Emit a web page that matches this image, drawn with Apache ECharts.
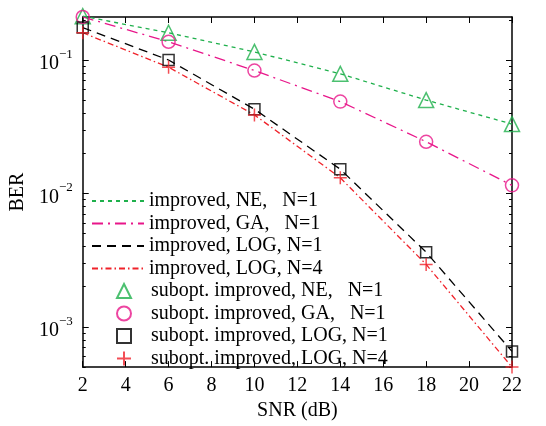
<!DOCTYPE html>
<html>
<head>
<meta charset="utf-8">
<script src="https://cdn.jsdelivr.net/npm/echarts@6/dist/echarts.min.js"></script>
<style>html,body{margin:0;padding:0;background:#fff}#c{width:546px;height:426px}</style>
</head>
<body>
<div id="c"></div>
<script>
// ---- data ----
const snr = [2, 6, 10, 14, 18, 22];
const berNE  = [0.213, 0.160, 0.115, 0.0788, 0.0501, 0.0331];
const berGA  = [0.210, 0.137, 0.0834, 0.0488, 0.0244, 0.0115];
const berLOG1 = [0.175, 0.100, 0.0428, 0.0152, 0.00363, 0.000655];
const berLOG4 = [0.160, 0.0883, 0.0388, 0.0131, 0.00294, 0.000500];
const xTicks = [2, 4, 6, 8, 10, 12, 14, 16, 18, 20, 22];
const yMajor = [0.001, 0.01, 0.1];
const lineNames = ['improved, NE,   N=1', 'improved, GA,   N=1', 'improved, LOG, N=1', 'improved, LOG, N=4'];
const markNames = ['subopt. improved, NE,   N=1', 'subopt. improved, GA,   N=1', 'subopt. improved, LOG, N=1', 'subopt. improved, LOG, N=4'];

// ---- styling ----
const GREEN = '#1fb04c', MAG = '#e8168a', BLACK = '#000000', RED = '#f0222a';
const FONT = "'Liberation Serif', 'Times New Roman', serif";
const yMin = 0.0005, yMax = 0.21;

const yMinor = [];
for (let k = -4; k <= -1; k++) {
  for (let m = 2; m <= 9; m++) {
    const v = +(m * Math.pow(10, k)).toPrecision(3);
    if (v >= yMin && v <= yMax) yMinor.push(v);
  }
}
const pairs = arr => snr.map((x, i) => [x, arr[i]]);
const sup = v => {
  const e = Math.round(Math.log10(v));
  return '{b|10}{s|\u2212' + (-e) + '}';
};

const lineSeries = [
  { name: lineNames[0], data: pairs(berNE), color: GREEN, type: [4, 4] },
  { name: lineNames[1], data: pairs(berGA), color: MAG, type: [11, 5, 2, 5] },
  { name: lineNames[2], data: pairs(berLOG1), color: BLACK, type: [9, 6] },
  { name: lineNames[3], data: pairs(berLOG4), color: RED, type: [6, 3, 1.5, 3] }
].map(s => ({
  type: 'line', name: s.name, data: s.data, xAxisIndex: 0, yAxisIndex: 0,
  symbol: 'none', clip: false, z: 3,
  lineStyle: { color: s.color, width: 1.3, type: s.type },
  itemStyle: { color: s.color }
}));

const markSeries = [
  { name: markNames[0], data: pairs(berNE), color: GREEN, symbol: 'triangle', size: 15 },
  { name: markNames[1], data: pairs(berGA), color: MAG, symbol: 'circle', size: 13 },
  { name: markNames[2], data: pairs(berLOG1), color: BLACK, symbol: 'rect', size: 11 },
  { name: markNames[3], data: pairs(berLOG4), color: RED, symbol: 'path://M0,5L10,5M5,0L5,10', size: 13 }
].map(s => ({
  type: 'scatter', name: s.name, data: s.data, xAxisIndex: 0, yAxisIndex: 0,
  symbol: s.symbol, symbolSize: s.size, clip: false, z: 4,
  itemStyle: { color: 'transparent', borderColor: s.color, borderWidth: 1.5 }
}));

const axisLineStyle = { color: '#000', width: 1.5 };
const baseY = (pos, ticks, len, showLine, showLabel) => ({
  type: 'log', logBase: 10, min: yMin, max: yMax, position: pos,
  axisLine: { show: showLine, onZero: false, lineStyle: axisLineStyle },
  axisTick: { show: true, inside: true, length: len, customValues: ticks, lineStyle: { color: '#000', width: 1 } },
  axisLabel: showLabel ? {
    show: true, customValues: yMajor, margin: 10, formatter: sup,
    rich: {
      b: { fontFamily: FONT, fontSize: 20, color: '#000', lineHeight: 24, padding: [8, 0, 0, 0] },
      s: { fontFamily: FONT, fontSize: 13, color: '#000', lineHeight: 14, verticalAlign: 'top' }
    }
  } : { show: false },
  splitLine: { show: false }, minorTick: { show: false }
});

const yAxes = [
  Object.assign(baseY('left', yMajor, 6, true, true), {
    name: 'BER', nameLocation: 'middle', nameGap: 39,
    nameTextStyle: { fontFamily: FONT, fontSize: 20, color: '#000' }
  }),
  baseY('left', yMinor, 3, false, false),
  baseY('right', yMajor, 6, true, false),
  baseY('right', yMinor, 3, false, false)
];

const baseX = (pos, showLabel) => ({
  type: 'value', min: 2, max: 22, interval: 2, position: pos,
  axisLine: { show: true, onZero: false, lineStyle: axisLineStyle },
  axisTick: { show: true, inside: true, length: 6, lineStyle: { color: '#000', width: 1 } },
  axisLabel: showLabel ? { show: true, fontFamily: FONT, fontSize: 20, color: '#000', margin: 9 } : { show: false },
  splitLine: { show: false }
});
const xAxes = [
  Object.assign(baseX('bottom', true), {
    name: 'SNR (dB)', nameLocation: 'middle', nameGap: 30,
    nameTextStyle: { fontFamily: FONT, fontSize: 20, color: '#000' }
  }),
  baseX('top', false)
];

const lineLegendItems = lineNames.map(n => ({ name: n, itemStyle: { color: 'rgba(0,0,0,0)', borderWidth: 0, borderColor: 'rgba(0,0,0,0)' } }));

const chart = echarts.init(document.getElementById('c'), null, { renderer: 'canvas' });
chart.setOption({
  animation: false,
  backgroundColor: '#fff',
  grid: { left: 79, right: 34, top: 17, bottom: 53, containLabel: false },
  xAxis: xAxes,
  yAxis: yAxes,
  legend: [{
    data: lineLegendItems,
    orient: 'vertical', left: 86, top: 186,
    itemWidth: 52, itemHeight: 14, itemGap: 2.5,
    selectedMode: false,
    textStyle: { fontFamily: FONT, fontSize: 20, color: '#000', lineHeight: 20 }
  }, {
    data: markNames,
    orient: 'vertical', left: 111, top: 276,
    itemWidth: 14, itemHeight: 14, itemGap: 2.5,
    selectedMode: false,
    textStyle: { fontFamily: FONT, fontSize: 20, color: '#000', lineHeight: 20, padding: [0, 0, 0, 15] }
  }],
  series: lineSeries.concat(markSeries)
});
</script>
</body>
</html>
